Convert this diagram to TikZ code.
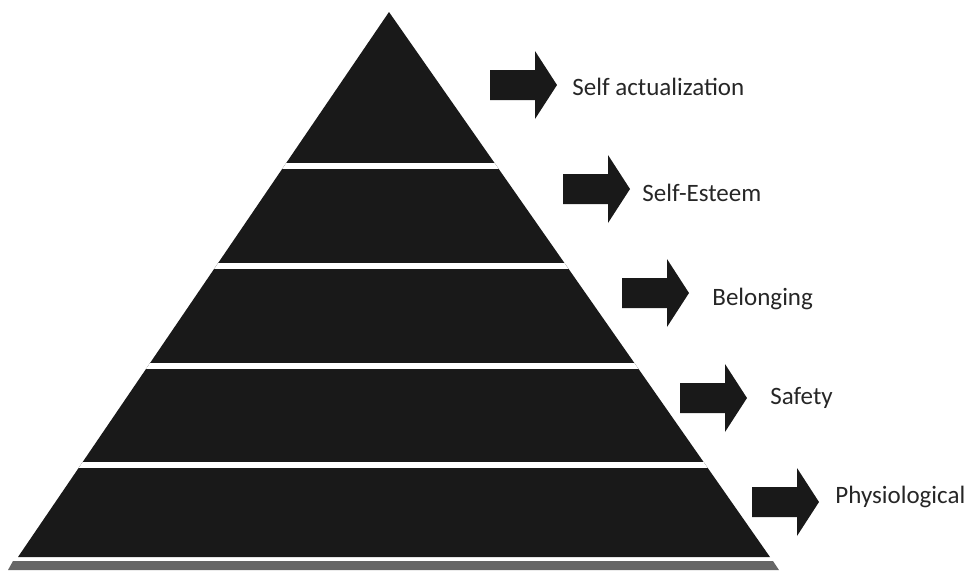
\documentclass[tikz,border=0pt]{standalone}
\usepackage{fontspec}
\setmainfont{Carlito}
\usepackage{tikz}
\usetikzlibrary{positioning}

\newcommand{\blockarrow}[1]{%
  \fill[black!90] (#1) ++(0,-15) -- ++(45,0) -- ++(0,-19) -- ++(22,34)
    -- ++(-22,34) -- ++(0,-19) -- ++(-45,0) -- cycle;}

\begin{document}
\begin{tikzpicture}[x=0.5pt, y=-0.5pt,
			pyr/.style={fill=black!90},
			gapline/.style={white, line width=3pt},
			label/.style={anchor=west, inner sep=0pt, text=black!85, font=\fontsize{12.5}{14}\selectfont}
		]
		\useasboundingbox (0,0) rectangle (971,570);
		\coordinate (apex) at (389,12);
		\coordinate (baseL) at (18,557);
		\coordinate (baseR) at (770,557);

		% pyramid and its bands
		\fill[pyr] (apex) -- (baseR) -- (baseL) -- cycle;
		\begin{scope}
			\clip (apex) -- (baseR) -- (baseL) -- cycle;
			\foreach \y in {166,266,366,465}
				\draw[gapline] (0,\y) -- (971,\y);
		\end{scope}
		\fill[black!60] (13,561) -- (773,561) -- (779,570) -- (8,570) -- cycle;

		% arrows
		\coordinate (a1) at (490,85);
		\coordinate (a2) at (563,189);
		\coordinate (a3) at (622,293);
		\coordinate (a4) at (680,398);
		\coordinate (a5) at (752,502);
		\foreach \a in {a1,a2,a3,a4,a5}
			\blockarrow{\a};

		\node[label] (self) at (572,87) {Self actualization};
		\node[label] (esteem) at (642,193) {Self-Esteem};
		\node[label] (belong) at (712,299) {Belonging};
		\node[label] (safety) at (770,398) {Safety};
		\node[label] (phys) at (835,497) {Physiological};
	\end{tikzpicture}
\end{document}
